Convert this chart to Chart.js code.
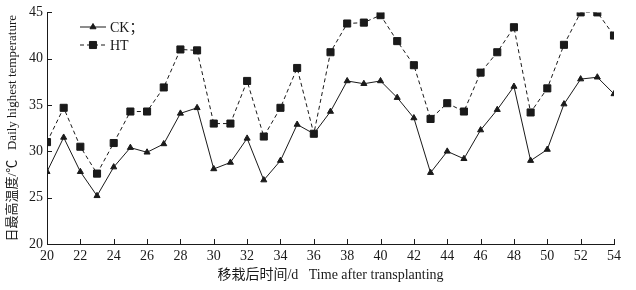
<!DOCTYPE html>
<html>
  <head>
    <meta charset="UTF-8" />
    <title>Daily highest temperature after transplanting</title>
    <script src="https://cdn.jsdelivr.net/npm/chart.js"></script>
    <style>
      html, body { margin: 0; padding: 0; background: #fff; }
      #wrap { width: 636px; height: 290px; position: relative; }
    </style>
  </head>
  <body>
    <div id="wrap"><canvas id="tempChart"></canvas></div>
    <script>
      // Days after transplanting
      const days = [20, 21, 22, 23, 24, 25, 26, 27, 28, 29, 30, 31, 32, 33, 34, 35, 36, 37,
                    38, 39, 40, 41, 42, 43, 44, 45, 46, 47, 48, 49, 50, 51, 52, 53, 54];
      // CK series (triangles, solid)
      const ckValues = [27.8, 31.5, 27.8, 25.2, 28.3, 30.4, 29.9, 30.8, 34.1, 34.7, 28.1, 28.8,
                        31.4, 26.9, 29.0, 32.9, 31.9, 34.3, 37.6, 37.3, 37.6, 35.8, 33.6, 27.7,
                        30.0, 29.2, 32.3, 34.5, 37.0, 29.0, 30.2, 35.1, 37.8, 38.0, 36.2];
      // HT series (squares, dashed)
      const htValues = [31.0, 34.7, 30.5, 27.6, 30.9, 34.3, 34.3, 36.9, 41.0, 40.9, 33.0, 33.0,
                        37.6, 31.6, 34.7, 39.0, 31.9, 40.7, 43.8, 43.9, 44.7, 41.9, 39.3, 33.5,
                        35.2, 34.3, 38.5, 40.7, 43.4, 34.2, 36.8, 41.5, 45.0, 45.0, 42.5];
      const seriesNames = ["CK；", "HT"];
      const xTitle = "移栽后时间/d   Time after transplanting";
      const yTitle = "日最高温度/℃   Daily highest temperature";

      const fontFamily = "'Liberation Serif', 'Noto Sans CJK SC', serif";
      const ink = "#1a1a1a";

      function toPoints(values) {
        return days.map((d, i) => ({ x: d, y: values[i] }));
      }

      // Ticks drawn inward from the axis lines
      const innerTicks = {
        id: "innerTicks",
        afterDraw(chart) {
          const ctx = chart.ctx;
          const xs = chart.scales.x, ys = chart.scales.y;
          const area = chart.chartArea;
          ctx.save();
          ctx.strokeStyle = ink;
          ctx.lineWidth = 1;
          ctx.beginPath();
          xs.ticks.forEach(t => {
            const px = Math.round(xs.getPixelForValue(t.value)) + 0.5;
            ctx.moveTo(px, area.bottom);
            ctx.lineTo(px, area.bottom - 5);
          });
          ys.ticks.forEach(t => {
            const py = Math.round(ys.getPixelForValue(t.value)) + 0.5;
            ctx.moveTo(area.left, py);
            ctx.lineTo(area.left + 5, py);
          });
          ctx.stroke();
          ctx.restore();
        }
      };

      // Legend in the upper left of the plot
      const insideLegend = {
        id: "insideLegend",
        afterDraw(chart) {
          const ctx = chart.ctx;
          ctx.save();
          ctx.strokeStyle = ink;
          ctx.fillStyle = ink;
          ctx.lineWidth = 1;
          const rows = [
            { y: 27, dash: [], style: "triangle", r: 3.5 },
            { y: 45, dash: [4, 3], style: "rect", r: 5 }
          ];
          rows.forEach((row, i) => {
            ctx.setLineDash(row.dash);
            ctx.beginPath();
            ctx.moveTo(80, row.y);
            ctx.lineTo(106, row.y);
            ctx.stroke();
            ctx.setLineDash([]);
            Chart.helpers.drawPoint(ctx, { pointStyle: row.style, radius: row.r, borderWidth: 1 }, 93, row.y);
            ctx.font = "14px " + fontFamily;
            ctx.textBaseline = "middle";
            ctx.fillText(seriesNames[i], 110, row.y + 1);
          });
          ctx.restore();
        }
      };

      const ctx = document.getElementById("tempChart").getContext("2d");
      new Chart(ctx, {
        type: "line",
        data: {
          datasets: [
            {
              label: seriesNames[0],
              data: toPoints(ckValues),
              borderColor: ink,
              backgroundColor: ink,
              borderWidth: 1,
              pointStyle: "triangle",
              pointRadius: 3.5,
              pointBorderWidth: 1,
              tension: 0
            },
            {
              label: seriesNames[1],
              data: toPoints(htValues),
              borderColor: ink,
              backgroundColor: ink,
              borderWidth: 1,
              borderDash: [4, 3],
              pointStyle: "rect",
              pointRadius: 5,
              pointBorderWidth: 1,
              tension: 0
            }
          ]
        },
        options: {
          responsive: true,
          maintainAspectRatio: false,
          animation: false,
          layout: { padding: { top: 10, right: 22, bottom: 0, left: 0 } },
          plugins: {
            legend: { display: false },
            tooltip: { enabled: false }
          },
          scales: {
            x: {
              type: "linear",
              min: 20,
              max: 54,
              afterFit: s => { s.height = 46; },
              border: { display: true, color: ink, width: 1 },
              grid: { display: false, drawTicks: false },
              ticks: {
                stepSize: 2,
                color: ink,
                padding: 4,
                maxRotation: 0,
                font: { family: fontFamily, size: 14 }
              },
              title: {
                display: true,
                text: xTitle,
                color: ink,
                padding: { top: 0, bottom: 6 },
                font: { family: fontFamily, size: 14 }
              }
            },
            y: {
              min: 20,
              max: 45,
              afterFit: s => { s.width = 47; },
              border: { display: true, color: ink, width: 1 },
              grid: { display: false, drawTicks: false },
              ticks: {
                stepSize: 5,
                color: ink,
                padding: 4,
                font: { family: fontFamily, size: 14 }
              },
              title: {
                display: true,
                text: yTitle,
                color: ink,
                padding: { top: 5, bottom: 0 },
                font: { family: fontFamily, size: 13 }
              }
            }
          }
        },
        plugins: [innerTicks, insideLegend]
      });
    </script>
  </body>
</html>
